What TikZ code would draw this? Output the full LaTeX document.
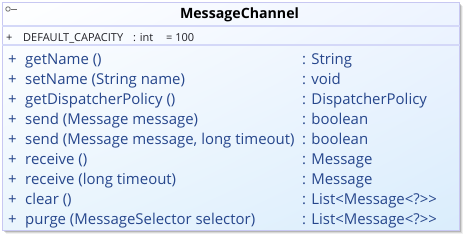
\documentclass[tikz,border=0pt]{standalone}
\usepackage{fontspec}
\setmainfont{Open Sans}
\usetikzlibrary{shadings}
\definecolor{edge}{RGB}{200,200,242}
\definecolor{rule}{RGB}{212,216,248}
\definecolor{ink}{RGB}{38,70,140}
\definecolor{attr}{RGB}{34,34,40}
\definecolor{iconc}{RGB}{110,110,110}
% size a font so that a sample string gets a given width
\newsavebox\probebox
\newlength\probelen
\newcommand\fitsize[3]{%
  \sbox\probebox{\fontsize{10}{12}\selectfont #2}%
  \setlength\probelen{\wd\probebox}%
  \pgfmathsetmacro#1{10*#3/\probelen}}
\tikzset{
  member/.style={anchor=base west, inner sep=0pt, text=ink,
                 font=\fontsize{\memsize}{\memsize}\selectfont},
  field/.style={anchor=base west, inner sep=0pt, text=attr,
                font=\fontsize{\fieldsize}{\fieldsize}\selectfont},
  sep/.style={draw=rule, line width=1.2pt},
}
\begin{document}%
\fitsize\memsize{purge (MessageSelector selector)}{230}%
\fitsize\titlesize{\bfseries MessageChannel}{119}%
\fitsize\fieldsize{DEFAULT\_CAPACITY}{100}%
\begin{tikzpicture}[x=1pt,y=-1pt]
\useasboundingbox (0,0) rectangle (468,241);
% drop shadow to the right and below
\foreach \d/\op in {4/0.06,3/0.10,2/0.16,1/0.22}
  \fill[black, opacity=\op] (2+\d,2+\d) rectangle (459+\d,230+\d);
% class box with diagonal gradient
\shade[upper left=white, upper right={rgb,255:red,238;green,244;blue,255},
       lower left={rgb,255:red,234;green,245;blue,253},
       lower right={rgb,255:red,218;green,237;blue,252}]
  (2,2) rectangle (459,230);
\node[draw=edge, line width=1.2pt, minimum width=457pt, minimum height=228pt,
      inner sep=0pt, anchor=north west] (cls) at (2,2) {};
% compartment separators
\draw[sep] (cls.west |- 0,26) -- (cls.east |- 0,26);
\draw[sep] (cls.west |- 0,45) -- (cls.east |- 0,45);
% visibility icon
\node[circle, draw=iconc, line width=0.8pt, minimum size=4.5pt, inner sep=0pt] (ico) at (8,9) {};
\coordinate (icoend) at (17,9);
\draw[iconc, line width=0.8pt] (ico.east) -- (icoend);
% title
\node[anchor=base, inner sep=0pt, font=\fontsize{\titlesize}{\titlesize}\bfseries\selectfont]
  (title) at (239.5,18.5) {MessageChannel};
% attribute
\node[field] (ap) at (6,41.7) {+};
\node[field] (an) at (23,41.7) {DEFAULT\_CAPACITY};
\node[field] (at) at (133,41.7) {: int};
\node[field] (av) at (166,41.7) {= 100};
% operations
\foreach \n/\sig/\ret [count=\i from 0] in {
  getName/{getName ()}/{: String},
  setName/{setName (String name)}/{: void},
  getPolicy/{getDispatcherPolicy ()}/{: DispatcherPolicy},
  sendA/{send (Message message)}/{: boolean},
  sendB/{send (Message message, long timeout)}/{: boolean},
  recvA/{receive ()}/{: Message},
  recvB/{receive (long timeout)}/{: Message},
  clear/{clear ()}/{: List<Message<?>{}>},
  purge/{purge (MessageSelector selector)}/{: List<Message<?>{}>}%
}{
  \node[member] (\n-vis) at (8,64.5+20*\i) {+};
  \node[member] (\n) at (25,64.5+20*\i) {\sig};
  \node[member] (\n-type) at (302,64.5+20*\i) {\ret};
}
\end{tikzpicture}%
\end{document}
